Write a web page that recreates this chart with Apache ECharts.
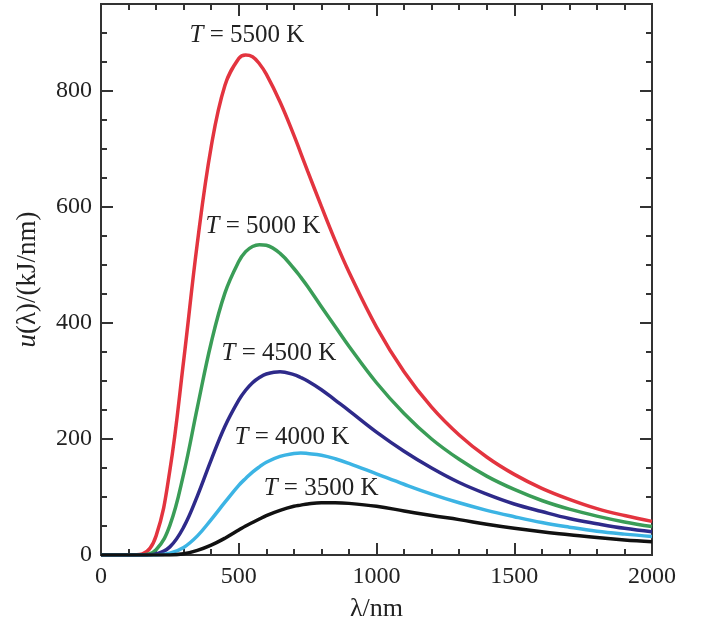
<!DOCTYPE html>
<html>
<head>
<meta charset="utf-8">
<script src="https://cdn.jsdelivr.net/npm/echarts@6/dist/echarts.min.js"></script>
<style>
  html, body { margin: 0; padding: 0; background: #fff; }
  #planck-chart { width: 709px; height: 627px; }
</style>
</head>
<body>
<div id="planck-chart"></div>
<script>
// wavelength samples (nm)
var wavelengths = [0, 100, 150, 200, 250, 300, 350, 400, 450, 500, 525, 550, 575, 600, 650, 700, 725, 750, 800, 850, 900, 1000, 1100, 1200, 1300, 1400, 1500, 1600, 1700, 1800, 1900, 2000];

// u(λ) in kJ/nm
var u5500 = [0, 0, 2, 33, 146, 335, 539, 704, 810, 856, 862, 859, 847, 829, 781, 724, 693, 662, 601, 542, 488, 393, 316, 255, 207, 169, 139, 115, 96, 80, 68, 58];
var u5000 = [0, 0, 0, 9, 51, 140, 255, 366, 452, 506, 523, 532, 535, 534, 520, 494, 479, 463, 428, 394, 360, 297, 244, 200, 165, 136, 113, 94, 79, 67, 57, 49];
var u4500 = [0, 0, 0, 2, 14, 48, 102, 164, 222, 267, 284, 297, 306, 312, 316, 311, 306, 300, 285, 267, 249, 212, 179, 150, 125, 105, 88, 75, 63, 54, 46, 40];
var u4000 = [0, 0, 0, 0, 3, 13, 33, 61, 91, 120, 132, 143, 152, 160, 170, 175, 176, 175, 172, 166, 158, 140, 122, 105, 90, 77, 66, 56, 48, 41, 36, 32];
var u3500 = [0, 0, 0, 0, 0, 2, 8, 17, 29, 43, 50, 56, 62, 68, 77, 84, 86, 88, 90, 90, 89, 84, 76, 68, 61, 53, 46, 40, 35, 30, 26, 23];

var temps = ['5500', '5000', '4500', '4000', '3500'];
// where each "T = ... K" label sits, in data coordinates
var labelAt = [[530, 896], [588, 567], [646, 347], [693, 203], [799, 115]];

var xTicks = { min: 0, max: 2000, major: 500, minor: 100 };
var yTicks = { min: 0, max: 950, major: 200, minor: 50 };

document.addEventListener('DOMContentLoaded', function () {
    const chart = echarts.init(document.getElementById('planck-chart'));
    const serif = "'Liberation Serif', 'DejaVu Serif', serif";
    const ink = '#333';

    const colors = ['#e3343f', '#3a9d57', '#2e2a8a', '#3cb4e4', '#111111'];
    const values = [u5500, u5000, u4500, u4000, u3500];

    function zip(ys) {
        return wavelengths.map(function (x, i) { return [x, ys[i]]; });
    }

    function axis(kind, pos, step, tickLen, withLabels, extra) {
        const lim = kind === 'x' ? xTicks : yTicks;
        return Object.assign({
            type: 'value',
            position: pos,
            min: lim.min,
            max: lim.max,
            interval: step,
            axisLine: { show: true, onZero: false, lineStyle: { color: ink, width: 2 } },
            axisTick: { show: true, inside: true, length: tickLen, lineStyle: { color: ink, width: 2 } },
            axisLabel: {
                show: withLabels,
                fontFamily: serif,
                fontSize: 24,
                color: '#222',
                margin: kind === 'x' ? 10 : 9,
                showMaxLabel: kind === 'x',
                formatter: function (v) { return String(v); }
            },
            splitLine: { show: false }
        }, extra || {});
    }

    const option = {
        animation: false,
        backgroundColor: '#fff',
        grid: { left: 101, right: 57, top: 4, bottom: 67 },
        xAxis: [
            axis('x', 'bottom', xTicks.major, 12, true, {
                name: 'λ/nm',
                nameLocation: 'middle',
                nameGap: 41,
                nameTextStyle: { fontFamily: serif, fontSize: 26, color: '#222' }
            }),
            axis('x', 'bottom', xTicks.minor, 6, false),
            axis('x', 'top', xTicks.major, 12, false),
            axis('x', 'top', xTicks.minor, 6, false)
        ],
        yAxis: [
            axis('y', 'left', yTicks.major, 12, true, {
                name: '{i|u}(λ)/(kJ/nm)',
                nameLocation: 'middle',
                nameGap: 60,
                nameTextStyle: {
                    fontFamily: serif, fontSize: 27, color: '#222',
                    rich: { i: { fontFamily: serif, fontSize: 27, fontStyle: 'italic', color: '#222' } }
                }
            }),
            axis('y', 'left', yTicks.minor, 6, false),
            axis('y', 'right', yTicks.major, 12, false),
            axis('y', 'right', yTicks.minor, 6, false)
        ],
        series: temps.map(function (t, k) {
            return {
                name: 'T = ' + t + ' K',
                type: 'line',
                xAxisIndex: 0,
                yAxisIndex: 0,
                data: zip(values[k]),
                smooth: 0.4,
                showSymbol: false,
                symbol: 'none',
                lineStyle: { color: colors[k], width: 3.5 },
                itemStyle: { color: colors[k] },
                markPoint: {
                    symbol: 'rect',
                    symbolSize: 1,
                    itemStyle: { color: 'rgba(0,0,0,0)' },
                    label: {
                        show: true,
                        position: 'inside',
                        formatter: '{i|T} = ' + t + ' K',
                        fontFamily: serif,
                        fontSize: 25,
                        color: '#222',
                        rich: { i: { fontFamily: serif, fontSize: 25, fontStyle: 'italic', color: '#222' } }
                    },
                    data: [{ coord: labelAt[k] }]
                }
            };
        })
    };

    chart.setOption(option);
});
</script>
</body>
</html>
